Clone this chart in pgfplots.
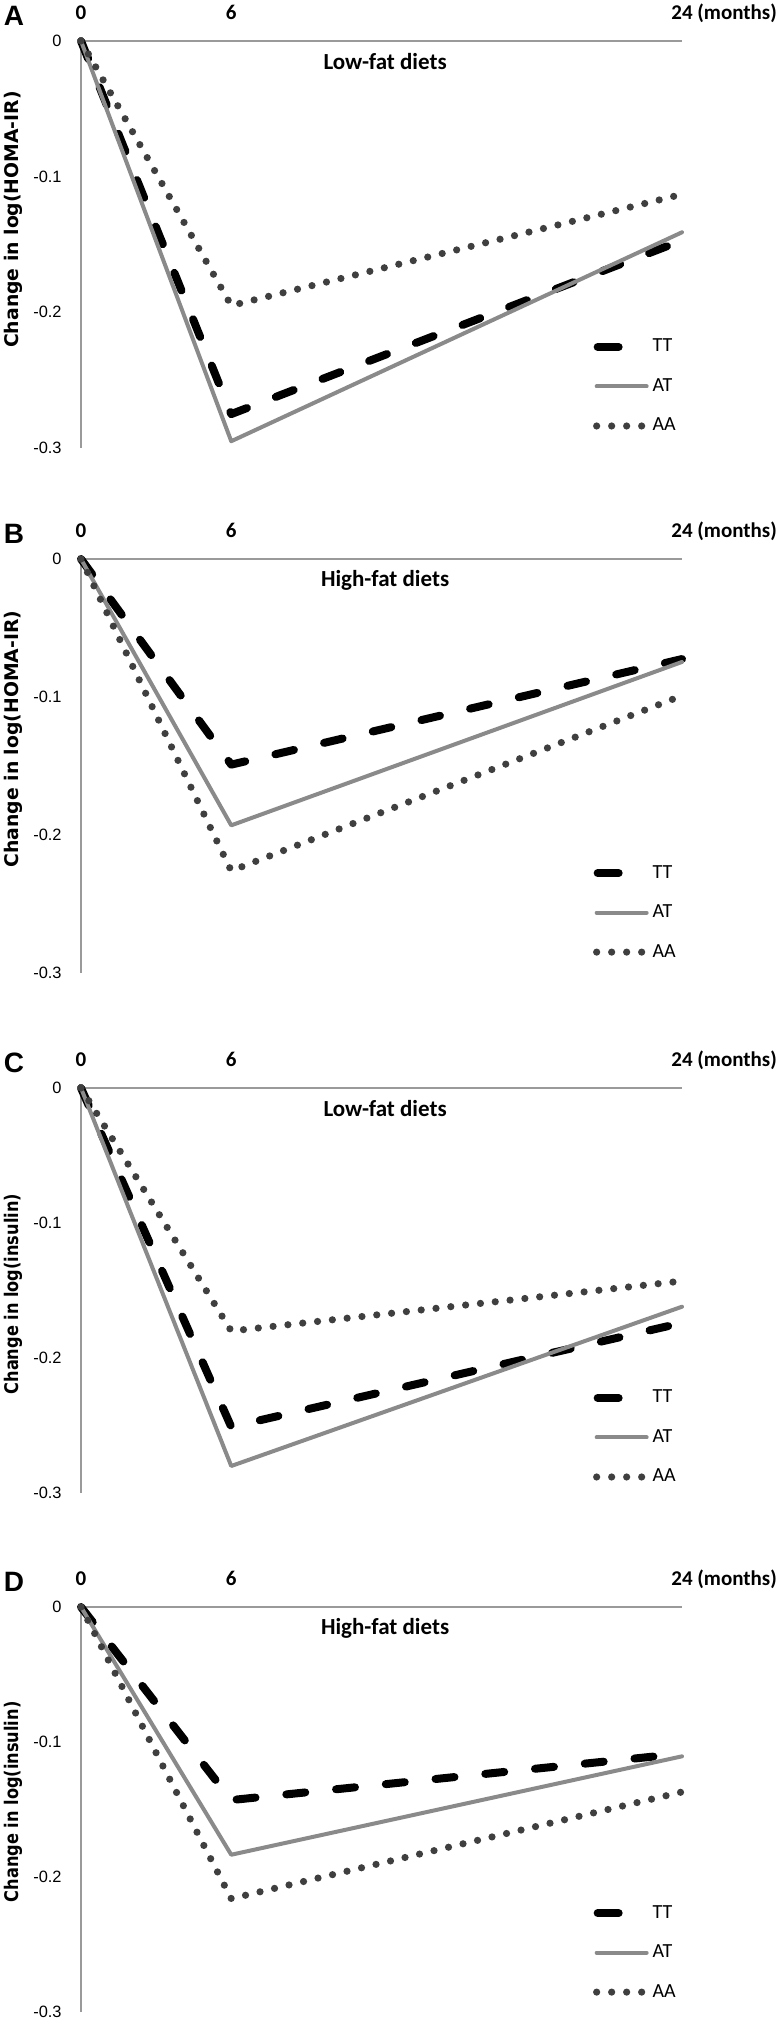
\documentclass[border=0pt]{standalone}
\usepackage{fontspec}
\setmainfont{Carlito}
\newfontfamily\arialf{Liberation Sans}
\newfontfamily\dejavuf{DejaVu Sans}
\usepackage{pgfplots}
\pgfplotsset{compat=1.18}
\definecolor{atgray}{HTML}{8A8A8A}
\definecolor{aagray}{HTML}{3F3F3F}
\definecolor{axgray}{HTML}{9A9A9A}
\pgfplotsset{
  panel/.style={
    scale only axis, width=300.5pt, xmin=0, xmax=24, ymin=-0.3, ymax=0,
    anchor=north west, clip=false,
    axis x line*=top, axis y line*=left,
    axis line style={draw=axgray, line width=0.75pt},
    major tick length=0pt,
    xtick={0,6,24}, xticklabels={0,6,24\rlap{ (months)}},
    xticklabel style={font=\bfseries\fontsize{10.5}{12}\selectfont, anchor=base, inner sep=0pt, yshift=10.75pt},
    ytick={-0.3,-0.2,-0.1,0}, yticklabels={-0.3,-0.2,-0.1,0},
    yticklabel style={font=\arialf\fontsize{8.2}{10}\selectfont, anchor=east, inner sep=0pt, xshift=-9.5pt},
    legend style={draw=none, fill=none, inner sep=0pt, outer sep=0pt, row sep=0pt, column sep=0pt, anchor=north west, font=\fontsize{10}{12}\selectfont, nodes={inner sep=0pt}},
    legend cell align=left,
  },
  serTT/.style={black, line width=4pt, line cap=round, line join=round, dash pattern=on 9.5pt off 15.5pt,
    legend image code/.code={
      \draw[solid, line width=4pt, line cap=round, black] (2pt,0pt) -- (12.5pt,0pt);
      \path[draw=none, fill=none] (0pt,-9.875pt) rectangle (29.5pt,9.875pt);}},
  serAT/.style={atgray, line width=2pt, line cap=round, line join=round, solid,
    legend image code/.code={
      \draw[solid, line width=2pt, line cap=round, atgray] (1.5pt,0pt) -- (26.5pt,0pt);
      \path[draw=none, fill=none] (0pt,-9.875pt) rectangle (29.5pt,9.875pt);}},
  serAA/.style={aagray, line width=3.6pt, line cap=round, line join=round, dash pattern=on 0pt off 7.45pt,
    legend image code/.code={
      \fill[draw=none, aagray] (1.5pt,0pt) circle[radius=1.8pt] (9pt,0pt) circle[radius=1.8pt] (16.5pt,0pt) circle[radius=1.8pt] (24pt,0pt) circle[radius=1.8pt];
      \path[draw=none, fill=none] (0pt,-9.875pt) rectangle (29.5pt,9.875pt);}},
}
\newcommand\ylab[2]{\node[font=\dejavuf\bfseries\fontsize{9.4}{10}\selectfont, rotate=90] at ([xshift=-33.75pt]rel axis cs:0,#1) {#2};}
\newcommand\plab[1]{\node[font=\arialf\bfseries\fontsize{14}{16}\selectfont] at ([xshift=-33.5pt,yshift=12.5pt]rel axis cs:0,1) {#1};}
\newcommand\ptitle[1]{\node[font=\bfseries\fontsize{11.5}{13}\selectfont] at ([yshift=-10.5pt]rel axis cs:0.506,1) {#1};}
\begin{document}
\begin{tikzpicture}
\useasboundingbox (0,0) rectangle (390.5pt,-1011.5pt);
% Panel A
\begin{axis}[panel, at={(40.5pt,-20.5pt)}, height=203.5pt, legend style={at={(0.852,0.2967)}}]
\addplot[serTT] coordinates {(0,0) (6,-0.275) (24,-0.147)};
\addlegendentry{TT}
\addplot[serAT] coordinates {(0,0) (6,-0.295) (24,-0.141)};
\addlegendentry{AT}
\addplot[serAA] coordinates {(0,0) (6,-0.195) (24,-0.113)};
\addlegendentry{AA}
\ptitle{Low-fat diets}
\ylab{0.5614}{Change in log(HOMA-IR)}
\plab{A}
\end{axis}
% Panel B
\begin{axis}[panel, at={(40.5pt,-279.5pt)}, height=207pt, legend style={at={(0.852,0.289)}}]
\addplot[serTT] coordinates {(0,0) (6,-0.149) (24,-0.0725)};
\addlegendentry{TT}
\addplot[serAT] coordinates {(0,0) (6,-0.193) (24,-0.0746)};
\addlegendentry{AT}
\addplot[serAA] coordinates {(0,0) (6,-0.226) (24,-0.099)};
\addlegendentry{AA}
\ptitle{High-fat diets}
\ylab{0.565}{Change in log(HOMA-IR)}
\plab{B}
\end{axis}
% Panel C
\begin{axis}[panel, at={(40.5pt,-544pt)}, height=202.5pt, legend style={at={(0.852,0.2834)}}]
\addplot[serTT] coordinates {(0,0) (6,-0.251) (24,-0.174)};
\addlegendentry{TT}
\addplot[serAT] coordinates {(0,0) (6,-0.280) (24,-0.162)};
\addlegendentry{AT}
\addplot[serAA] coordinates {(0,0) (6,-0.180) (24,-0.143)};
\addlegendentry{AA}
\ptitle{Low-fat diets}
\ylab{0.491}{\scalebox{0.86}[1]{Change in log(insulin)}}
\plab{C}
\end{axis}
% Panel D
\begin{axis}[panel, at={(40.5pt,-803.5pt)}, height=202.5pt, legend style={at={(0.852,0.293)}}]
\addplot[serTT] coordinates {(0,0) (6,-0.143) (24,-0.1086)};
\addlegendentry{TT}
\addplot[serAT] coordinates {(0,0) (6,-0.1835) (24,-0.1106)};
\addlegendentry{AT}
\addplot[serAA] coordinates {(0,0) (6,-0.216) (24,-0.137)};
\addlegendentry{AA}
\ptitle{High-fat diets}
\ylab{0.519}{\scalebox{0.86}[1]{Change in log(insulin)}}
\plab{D}
\end{axis}
\end{tikzpicture}
\end{document}
